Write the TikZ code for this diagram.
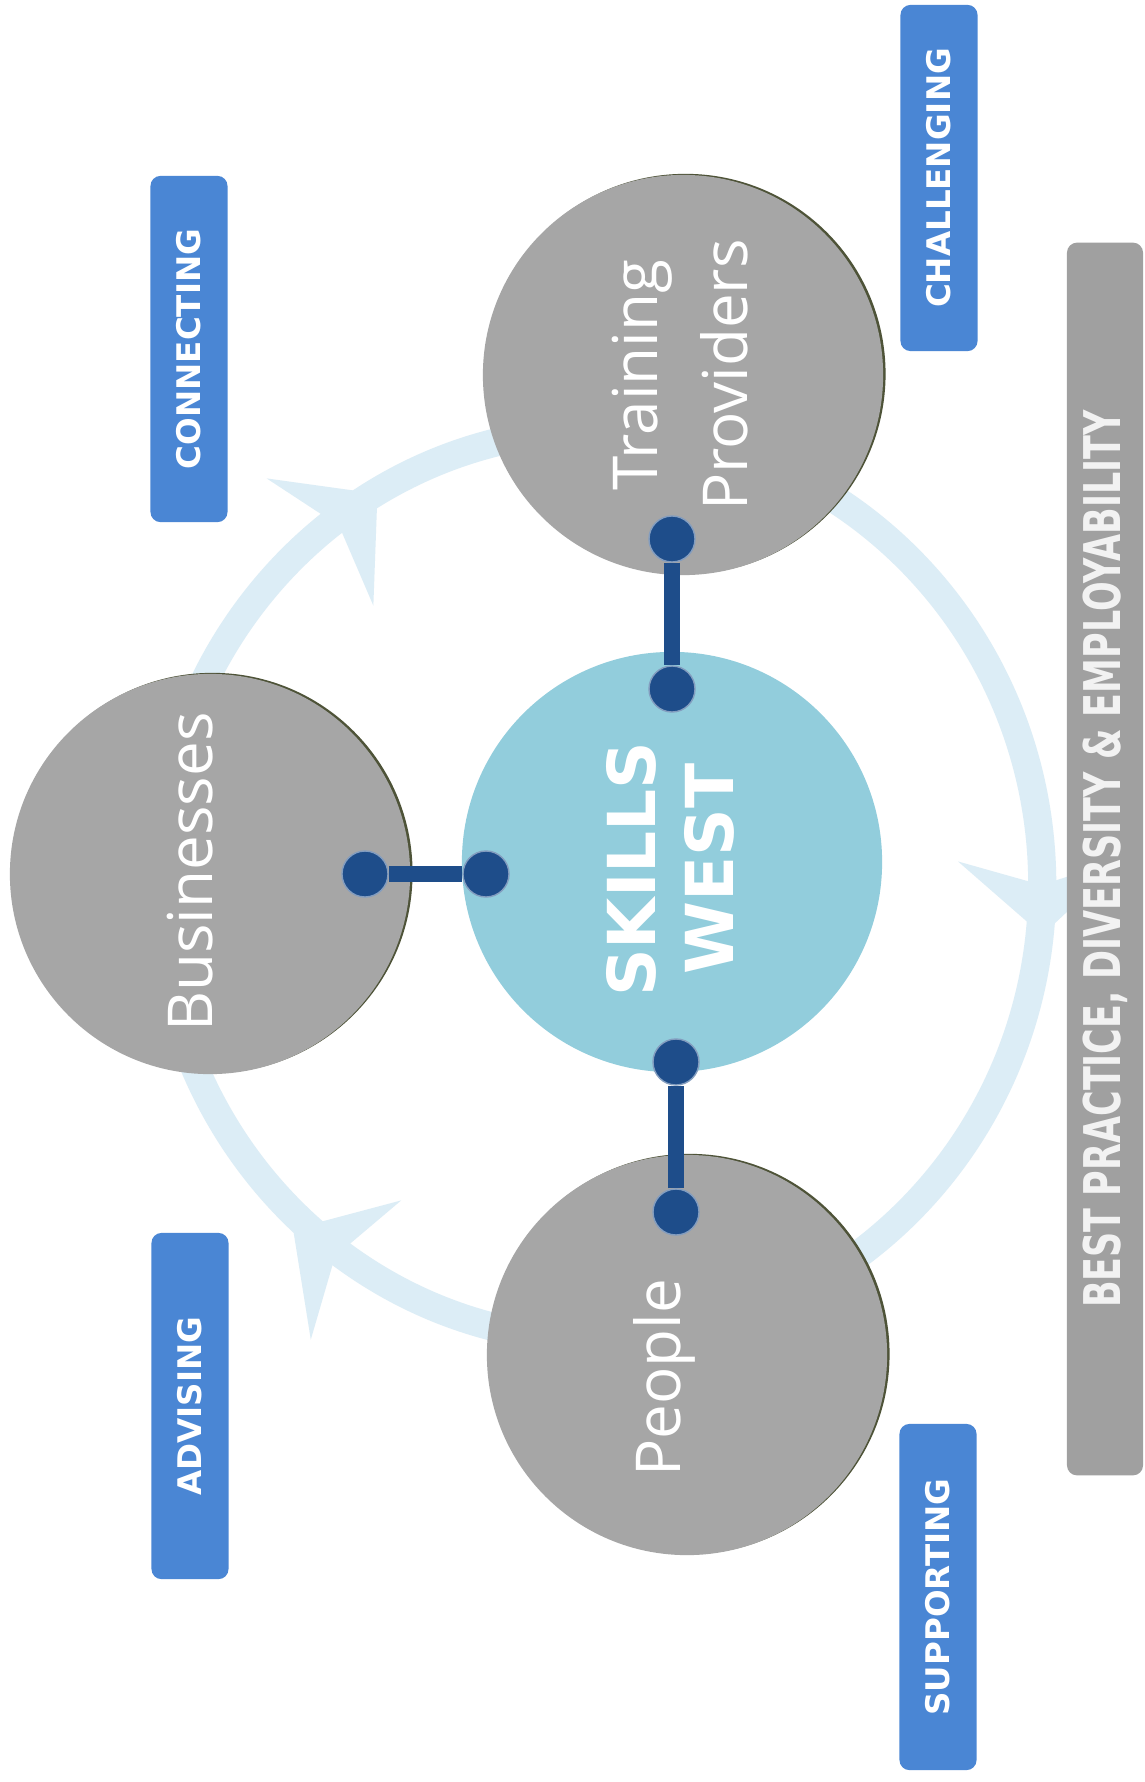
\documentclass[tikz,border=0pt]{standalone}
\usepackage{fontspec}
\setmainfont{Open Sans}
\newfontfamily\tagfont{DejaVu Sans}
\usepackage{tikz}
\definecolor{hubgray}{HTML}{A6A6A6}
\definecolor{hubedge}{HTML}{4E5338}
\definecolor{core}{HTML}{92CDDC}
\definecolor{link}{HTML}{1E4D8A}
\definecolor{ring}{HTML}{DCEDF6}
\definecolor{tagblue}{HTML}{4A86D4}
\definecolor{band}{HTML}{A0A0A0}

\begin{document}
\begin{tikzpicture}[x=0.01cm,y=-0.01cm,
    hub/.style={circle,fill=hubgray,minimum size=4cm,inner sep=0pt,
      preaction={fill=hubedge,transform canvas={xshift=0.7pt,yshift=0.3pt}}},
    core/.style={circle,fill=core,minimum size=4.2cm,inner sep=0pt},
    hubtext/.style={rotate=90,text=white,align=center,inner sep=0pt,font=\fontsize{17.6}{25.6}\selectfont},
    coretext/.style={rotate=90,text=white,align=center,inner sep=0pt,font=\tagfont\bfseries\fontsize{18.8}{22.2}\selectfont},
    knob/.style={circle,fill=link,draw=link!55!white,line width=0.4pt,minimum size=0.46cm,inner sep=0pt},
    wire/.style={draw=link,line width=4.3pt},
    badge/.style={rotate=90,rounded corners=1mm,fill=tagblue,text=white,minimum width=3.46cm,minimum height=0.77cm,inner sep=0pt,font=\tagfont\bfseries\fontsize{9.25}{11}\selectfont},
    banner/.style={rotate=90,rounded corners=1mm,fill=band,text=white!95!black,minimum width=12.32cm,minimum height=0.76cm,inner sep=0pt,font=\tagfont\bfseries\fontsize{14.4}{16}\selectfont},
    barb/.style={fill=ring}]
    \path[use as bounding box,fill=white] (0,0) rectangle (1144,1782);

    \draw[ring,line width=8pt] (600,885) ellipse[x radius=4.42cm,y radius=4.55cm];
    \fill[barb,shift={(320,542)},rotate=40] (75,0) -- (0,83) -- (25,0) -- (0,-83) -- cycle;
    \fill[barb,shift={(1041,860)},rotate=-89] (75,0) -- (0,83) -- (25,0) -- (0,-83) -- cycle;
    \fill[barb,shift={(356,1270)},rotate=147] (75,0) -- (0,83) -- (25,0) -- (0,-83) -- cycle;

    \path
    (210,874) node[hub] (bus) {}
    (683,375) node[hub] (train) {}
    (687,1355) node[hub] (people) {}
    (672,862) node[core] (skills) {}
    ;

    \path
    (190,872) node[hubtext] (busT) {Businesses}
    (680,375) node[hubtext] (trainT) {Training\\Providers}
    (664,1378) node[hubtext] (peopleT) {People}
    (670,869) node[coretext] (skillsT) {SKILLS\\WEST}
    ;

    \path
    (672,539) node[knob] (trainK) {}
    (672,689) node[knob] (skillsN) {}
    (365,874) node[knob] (busK) {}
    (486,874) node[knob] (skillsW) {}
    (676,1212) node[knob] (peopleK) {}
    (676,1062) node[knob] (skillsS) {}
    ;
    \draw[wire] (trainK) -- (skillsN);
    \draw[wire] (busK) -- (skillsW);
    \draw[wire] (peopleK) -- (skillsS);

    \path
    (189,349) node[badge] (connecting) {CONNECTING}
    (939,178) node[badge] (challenging) {CHALLENGING}
    (190,1406) node[badge] (advising) {ADVISING}
    (938,1597) node[badge] (supporting) {SUPPORTING}
    ;
    \node[banner] (practice) at (1105,859) {\scalebox{0.69}[1]{BEST PRACTICE, DIVERSITY \& EMPLOYABILITY}};
  \end{tikzpicture}
\end{document}
